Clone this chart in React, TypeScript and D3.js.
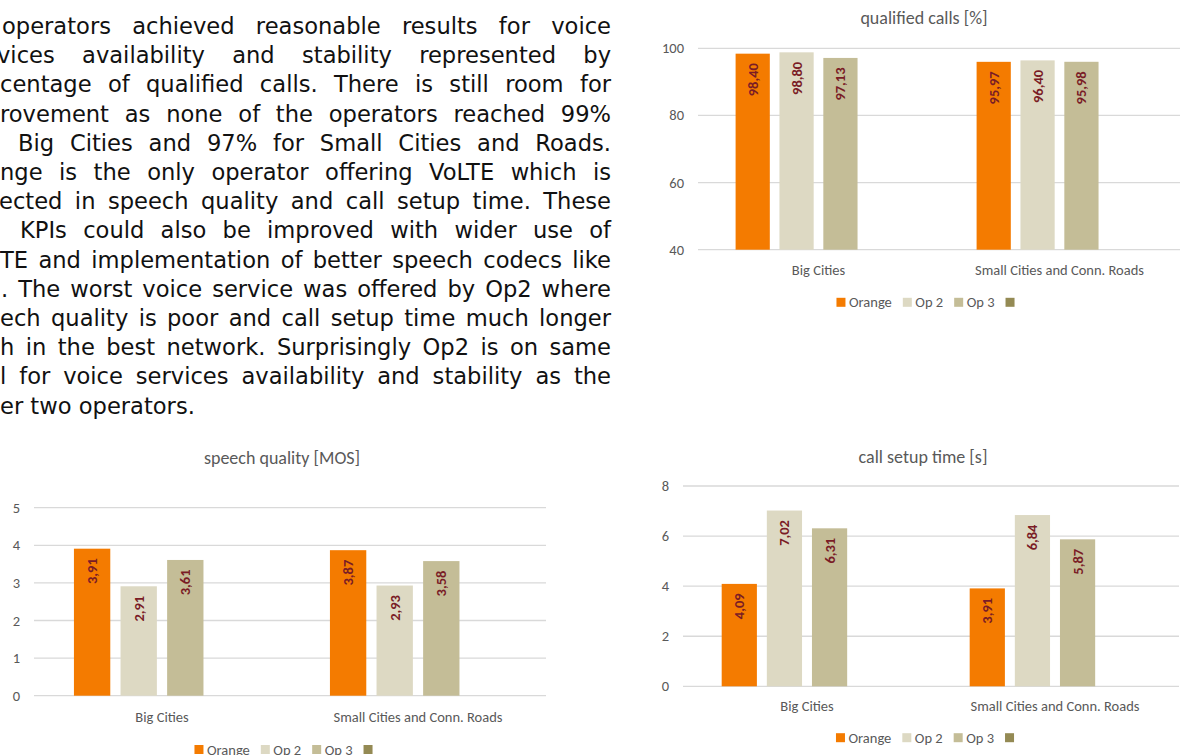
import React, { useEffect, useRef } from 'react';
import * as d3 from 'd3';

// ---------- data ----------
const categories = ['Big Cities', 'Small Cities and Conn. Roads'];
const seriesNames = ['Orange', 'Op 2', 'Op 3', ''];
const seriesColors = ['#F47B00', '#DDD9C3', '#C4BD97', '#948A54'];

const qualifiedOrange = [98.4, 95.97];
const qualifiedOp2 = [98.8, 96.4];
const qualifiedOp3 = [97.13, 95.98];
const qualifiedTicks = [40, 60, 80, 100];

const speechOrange = [3.91, 3.87];
const speechOp2 = [2.91, 2.93];
const speechOp3 = [3.61, 3.58];
const speechTicks = [0, 1, 2, 3, 4, 5];

const setupOrange = [4.09, 3.91];
const setupOp2 = [7.02, 6.84];
const setupOp3 = [6.31, 5.87];
const setupTicks = [0, 2, 4, 6, 8];

const paragraphLines = [
  'operators achieved reasonable results for voice',
  'vices availability and stability represented by',
  'centage of qualified calls. There is still room for',
  'rovement as none of the operators reached 99%',
  'Big Cities and 97% for Small Cities and Roads.',
  'nge is the only operator offering VoLTE which is',
  'ected in speech quality and call setup time. These',
  'KPIs could also be improved with wider use of',
  'TE and implementation of better speech codecs like',
  '. The worst voice service was offered by Op2 where',
  'ech quality is poor and call setup time much longer',
  'h in the best network. Surprisingly Op2 is on same',
  'l for voice services availability and stability as the',
  'er two operators.',
];

// ---------- styling / layout ----------
const CHART_FONT = "Carlito, Calibri, Lato, 'Liberation Sans', sans-serif";
const TEXT_FONT = "Verdana, 'DejaVu Sans', sans-serif";
const LABEL_COLOR = '#7A1C26';
const AXIS_COLOR = '#595959';
const GRID_COLOR = '#D9D9D9';

const lineIndent = [2, -3, 0, 0, 18, 0, -1, 20, 0, 1, 0, 0, 0, 0];

type ChartCfg = {
  title: string;
  titleX: number;
  titleY: number;
  left: number;
  right: number;
  yTop: number;
  yBottom: number;
  domain: [number, number];
  ticks: number[];
  catY: number;
  legendY: number;
  legendCX: number;
  series: (number[] | null)[];
};

const fmt = (v: number) => d3.format('.2f')(v).replace('.', ',');

function drawChart(root: d3.Selection<SVGGElement, unknown, null, undefined>, cfg: ChartCfg) {
  const g = root.append('g');
  const y = d3.scaleLinear().domain(cfg.domain).range([cfg.yBottom, cfg.yTop]);
  const x0 = d3.scaleBand<string>().domain(categories).range([cfg.left, cfg.right]).padding(0);
  const bw = x0.bandwidth();
  const x1 = d3
    .scaleBand<number>()
    .domain(d3.range(seriesNames.length))
    .range([bw * 0.156, bw * 0.844])
    .paddingInner(0.22)
    .paddingOuter(0);

  // title
  g.append('text')
    .attr('x', cfg.titleX)
    .attr('y', cfg.titleY)
    .attr('text-anchor', 'middle')
    .attr('dominant-baseline', 'central')
    .style('font-family', CHART_FONT)
    .style('font-size', '18px')
    .style('fill', AXIS_COLOR)
    .text(cfg.title);

  // gridlines + tick labels
  cfg.ticks.forEach((t) => {
    g.append('line')
      .attr('x1', cfg.left)
      .attr('x2', cfg.right)
      .attr('y1', y(t))
      .attr('y2', y(t))
      .style('stroke', GRID_COLOR)
      .style('stroke-width', 1.3);
    g.append('text')
      .attr('x', cfg.left - 14)
      .attr('y', y(t))
      .attr('text-anchor', 'end')
      .attr('dominant-baseline', 'central')
      .style('font-family', CHART_FONT)
      .style('font-size', '14.5px')
      .style('fill', AXIS_COLOR)
      .text(String(t));
  });

  // bars
  cfg.series.forEach((vals, si) => {
    if (!vals) return;
    vals.forEach((v, ci) => {
      const bx = (x0(categories[ci]) as number) + (x1(si) as number);
      const w = x1.bandwidth();
      g.append('rect')
        .attr('x', bx)
        .attr('y', y(v))
        .attr('width', w)
        .attr('height', y(cfg.domain[0]) - y(v))
        .style('fill', seriesColors[si]);
      g.append('text')
        .attr('transform', `translate(${bx + w / 2},${y(v) + 9.5}) rotate(-90)`)
        .attr('text-anchor', 'end')
        .attr('dominant-baseline', 'central')
        .style('font-family', CHART_FONT)
        .style('font-size', '14.5px')
        .style('font-weight', 'bold')
        .style('fill', LABEL_COLOR)
        .text(fmt(v));
    });
  });

  // category labels
  categories.forEach((c) => {
    g.append('text')
      .attr('x', (x0(c) as number) + bw / 2)
      .attr('y', cfg.catY)
      .attr('text-anchor', 'middle')
      .attr('dominant-baseline', 'central')
      .style('font-family', CHART_FONT)
      .style('font-size', '14.5px')
      .style('fill', AXIS_COLOR)
      .text(c);
  });

  // legend
  const lg = g.append('g');
  const sq = 9;
  let cx = 0;
  seriesNames.forEach((name, i) => {
    lg.append('rect')
      .attr('x', cx)
      .attr('y', cfg.legendY - sq / 2)
      .attr('width', sq)
      .attr('height', sq)
      .style('fill', seriesColors[i]);
    cx += sq;
    if (name) {
      const t = lg
        .append('text')
        .attr('x', cx + 3.5)
        .attr('y', cfg.legendY)
        .attr('dominant-baseline', 'central')
        .style('font-family', CHART_FONT)
        .style('font-size', '14.5px')
        .style('fill', AXIS_COLOR)
        .text(name);
      cx += 3.5 + (t.node() as SVGTextElement).getComputedTextLength() + 11;
    }
  });
  lg.attr('transform', `translate(${cfg.legendCX - cx / 2},0)`);
}

export default function App() {
  const ref = useRef<SVGSVGElement | null>(null);

  useEffect(() => {
    const svg = d3.select(ref.current as SVGSVGElement);
    svg.selectAll('*').remove();
    const root = svg.append('g');

    // paragraph text (justified)
    const para = root.append('g');
    const rightEdge = 611;
    paragraphLines.forEach((line, i) => {
      const x = lineIndent[i];
      const t = para
        .append('text')
        .attr('x', x)
        .attr('y', 34 + i * 29.2)
        .style('font-family', TEXT_FONT)
        .style('font-size', '22.6px')
        .style('fill', '#111')
        .text(line);
      if (i < paragraphLines.length - 1) {
        const w = (t.node() as SVGTextElement).getComputedTextLength();
        const spaces = (line.match(/ /g) || []).length;
        if (spaces > 0) t.style('word-spacing', `${(rightEdge - x - w) / spaces}px`);
      }
    });

    drawChart(root, {
      title: 'qualified calls [%]',
      titleX: 924,
      titleY: 18,
      left: 698,
      right: 1180,
      yTop: 48.3,
      yBottom: 249.7,
      domain: [40, 100],
      ticks: qualifiedTicks,
      catY: 270,
      legendY: 302.3,
      legendCX: 925.5,
      series: [qualifiedOrange, qualifiedOp2, qualifiedOp3, null],
    });

    drawChart(root, {
      title: 'speech quality [MOS]',
      titleX: 282,
      titleY: 458,
      left: 34,
      right: 546,
      yTop: 507.7,
      yBottom: 695.7,
      domain: [0, 5],
      ticks: speechTicks,
      catY: 716.5,
      legendY: 749.5,
      legendCX: 283.5,
      series: [speechOrange, speechOp2, speechOp3, null],
    });

    drawChart(root, {
      title: 'call setup time [s]',
      titleX: 923,
      titleY: 456.7,
      left: 683,
      right: 1179,
      yTop: 486,
      yBottom: 686.3,
      domain: [0, 8],
      ticks: setupTicks,
      catY: 706,
      legendY: 737.7,
      legendCX: 925,
      series: [setupOrange, setupOp2, setupOp3, null],
    });
  }, []);

  return (
    <svg
      ref={ref}
      width={1180}
      height={755}
      style={{ position: 'absolute', left: 0, top: 0, background: '#fff' }}
    />
  );
}
